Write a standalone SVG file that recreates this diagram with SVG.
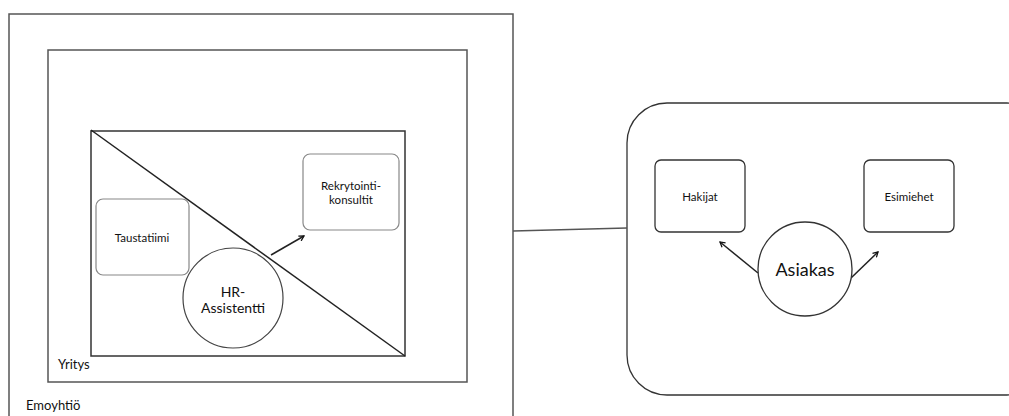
<svg xmlns="http://www.w3.org/2000/svg" width="1009" height="416" viewBox="0 0 1009 416">
<defs>
<style>
.frame{fill:none;stroke:#555;stroke-width:1.5}
.box{fill:#fff;stroke:#888;stroke-width:1.2}
.dbox{fill:#fff;stroke:#333;stroke-width:1.3}
.circ{fill:#fff;stroke:#444;stroke-width:1.2}
.t{font-family:Lato,"Open Sans","Liberation Sans",sans-serif;fill:#111;text-anchor:middle}
.l{font-family:Lato,"Open Sans","Liberation Sans",sans-serif;fill:#111}
.ln{fill:none;stroke:#222;stroke-width:1.5}
</style>
<marker id="ah" viewBox="0 0 10 10" refX="8" refY="5" markerWidth="7" markerHeight="7" orient="auto" markerUnits="userSpaceOnUse">
<path d="M1,1 L8,5 L1,9" fill="none" stroke="#111" stroke-width="1.8"/>
</marker>
</defs>
<rect width="1009" height="416" fill="#fff"/>
<g id="emoyhtio">
<rect class="frame" x="9" y="14" width="504" height="420"/>
<text class="l" x="26" y="410" font-size="13">Emoyhtiö</text>
</g>
<g id="yritys">
<rect class="frame" x="48" y="50" width="419" height="332"/>
<text class="l" x="58" y="369" font-size="13">Yritys</text>
</g>
<g id="inner">
<rect fill="none" stroke="#333" stroke-width="1.5" x="91" y="131" width="314" height="225"/>
</g>
<g id="asiakas-group">
<rect fill="none" stroke="#333" stroke-width="1.3" x="627" y="103" width="420" height="292" rx="40"/>
</g>
<g id="taustatiimi">
<rect class="box" x="96" y="199" width="93" height="76" rx="7"/>
<text class="t" x="142" y="242" font-size="11.5">Taustatiimi</text>
</g>
<g id="connectors">
<line class="ln" x1="91" y1="130" x2="405" y2="356"/>
<line class="ln" x1="271" y1="255" x2="304" y2="236" marker-end="url(#ah)"/>
<line fill="none" stroke="#555" stroke-width="1.5" x1="513" y1="231" x2="627" y2="228"/>
<line class="ln" x1="758" y1="273" x2="720" y2="242" marker-end="url(#ah)"/>
<line class="ln" x1="851" y1="278" x2="878" y2="252" marker-end="url(#ah)"/>
</g>
<g id="hr-assistentti">
<circle class="circ" cx="233" cy="298" r="50"/>
<text class="t" x="233" y="297" font-size="14">HR-</text>
<text class="t" x="233" y="313" font-size="14">Assistentti</text>
</g>
<g id="rekrytointikonsultit">
<rect class="box" x="303" y="154" width="96" height="76" rx="7"/>
<text class="t" x="351" y="190" font-size="11.5">Rekrytointi-</text>
<text class="t" x="351" y="204" font-size="11.5">konsultit</text>
</g>
<g id="hakijat">
<rect class="dbox" x="655" y="160" width="90" height="72" rx="6"/>
<text class="t" x="700" y="201" font-size="11.5">Hakijat</text>
</g>
<g id="esimiehet">
<rect class="dbox" x="864" y="160" width="90" height="72" rx="6"/>
<text class="t" x="909" y="201" font-size="11.5">Esimiehet</text>
</g>
<g id="asiakas">
<circle class="dbox" cx="805" cy="269" r="47"/>
<text class="t" x="805" y="276" font-size="18">Asiakas</text>
</g>
</svg>
